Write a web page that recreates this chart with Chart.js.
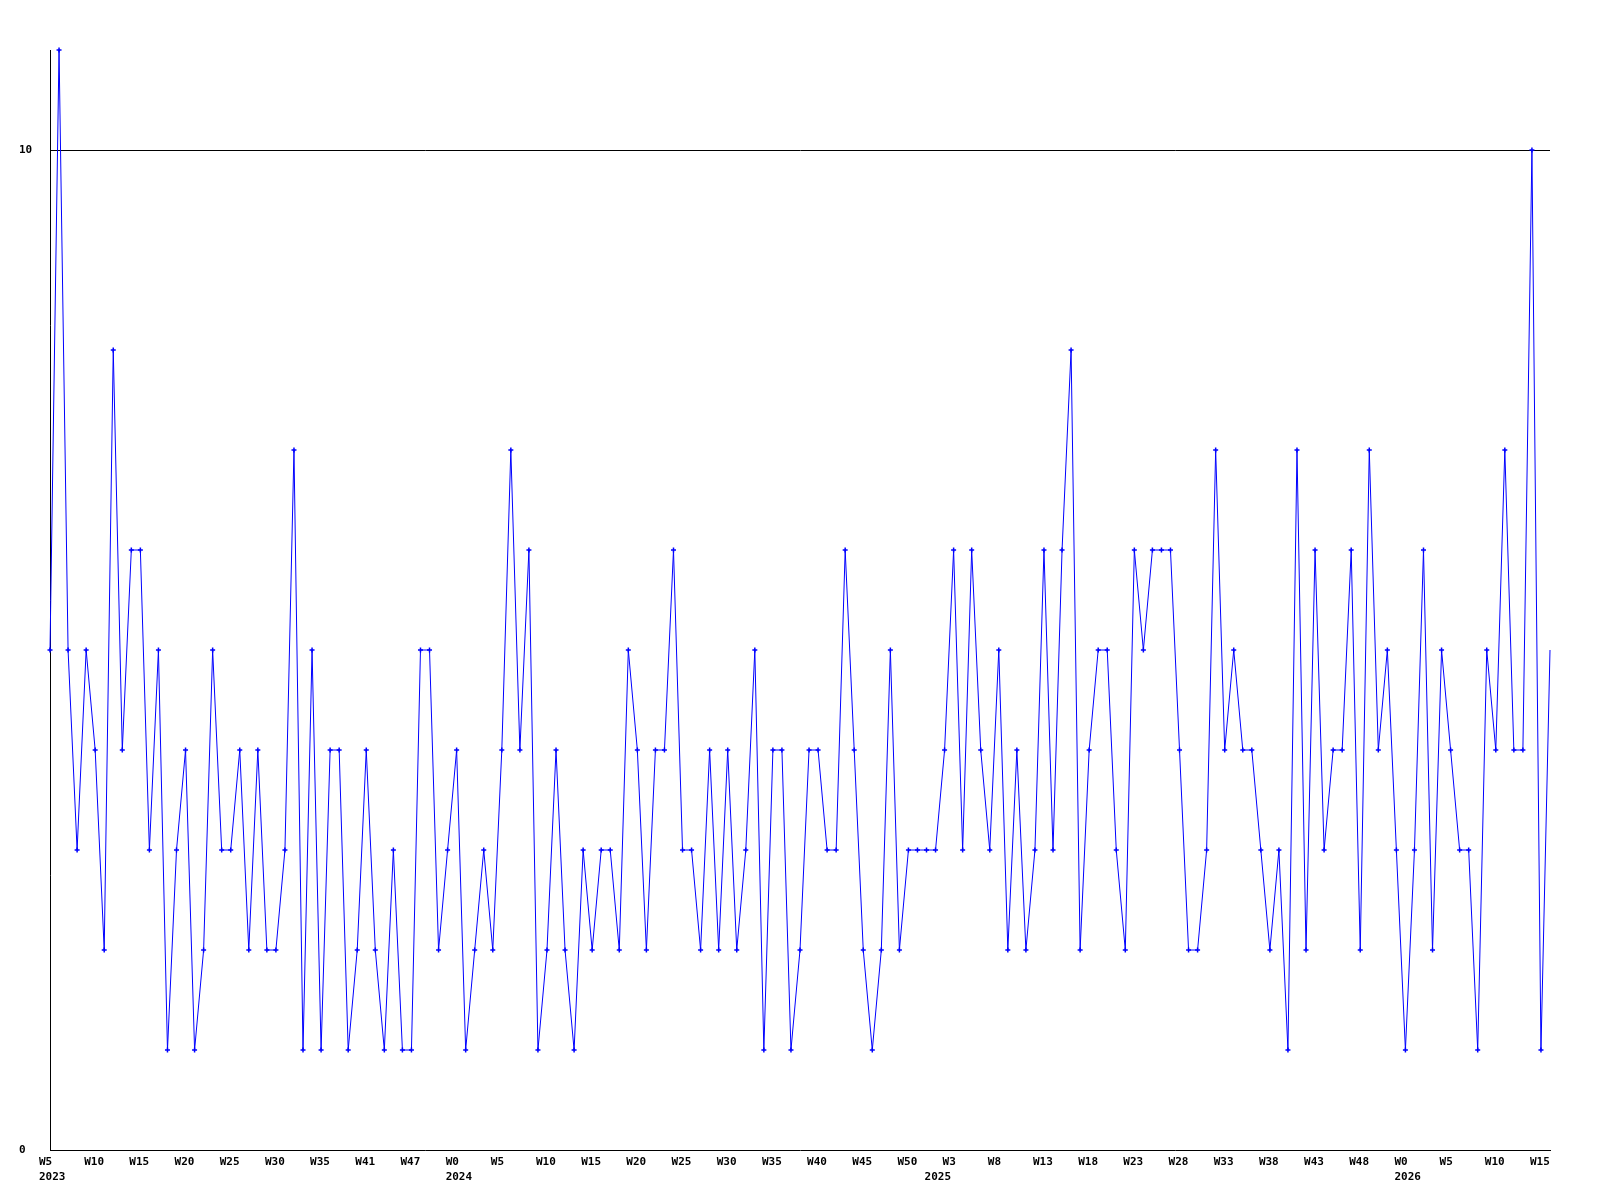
<!DOCTYPE html>
<html>
<head>
<meta charset="utf-8">
<script src="https://cdn.jsdelivr.net/npm/chart.js@4"></script>
<style>
  body { margin: 0; background: #fff; }
  #chart { display: block; }
</style>
</head>
<body>
<canvas id="chart" width="1600" height="1200"></canvas>
<script>
// ----------------- Données -----------------
// une valeur par semaine, de 2023 W5 à 2026 W15
const values = [
  5, 11, 5, 3, 5, 4, 2, 8, 4, 6, 6, 3, 5, 1, 3, 4, 1, 2, 5, 3,
  3, 4, 2, 4, 2, 2, 3, 7, 1, 5, 1, 4, 4, 1, 2, 4, 2, 1, 3, 1,
  1, 5, 5, 2, 3, 4, 1, 2, 3, 2, 4, 7, 4, 6, 1, 2, 4, 2, 1, 3,
  2, 3, 3, 2, 5, 4, 2, 4, 4, 6, 3, 3, 2, 4, 2, 4, 2, 3, 5, 1,
  4, 4, 1, 2, 4, 4, 3, 3, 6, 4, 2, 1, 2, 5, 2, 3, 3, 3, 3, 4,
  6, 3, 6, 4, 3, 5, 2, 4, 2, 3, 6, 3, 6, 8, 2, 4, 5, 5, 3, 2,
  6, 5, 6, 6, 6, 4, 2, 2, 3, 7, 4, 5, 4, 4, 3, 2, 3, 1, 7, 2,
  6, 3, 4, 4, 6, 2, 7, 4, 5, 3, 1, 3, 6, 2, 5, 4, 3, 3, 1, 5,
  4, 7, 4, 4, 10, 1, 5
];

// étiquettes de l'axe X : une toutes les 5 semaines
const tickEvery = 5;
const tickWeeks = [
  'W5', 'W10', 'W15', 'W20', 'W25', 'W30', 'W35', 'W41', 'W47',
  'W0', 'W5', 'W10', 'W15', 'W20', 'W25', 'W30', 'W35', 'W40', 'W45', 'W50',
  'W3', 'W8', 'W13', 'W18', 'W23', 'W28', 'W33', 'W38', 'W43', 'W48',
  'W0', 'W5', 'W10', 'W15'
];
// début de chaque année (index de la semaine)
const yearIndex = [0, 45, 98, 150];
const years = ['2023', '2024', '2025', '2026'];

const yTicks = [0, 10];

// ----------------- Catégories -----------------
const categories = values.map((v, i) => {
  const week = (i % tickEvery === 0) ? tickWeeks[i / tickEvery] : '';
  const y = yearIndex.indexOf(i);
  return y >= 0 ? [week, years[y]] : week;
});

Chart.defaults.font.family = "'DejaVu Sans Mono', 'Liberation Mono', monospace";
Chart.defaults.font.size = 11;
Chart.defaults.font.weight = 'bold';
Chart.defaults.color = '#000';

const lastIndex = values.length - 1;

// ----------------- Graphique -----------------
const ctx = document.getElementById('chart').getContext('2d');
new Chart(ctx, {
  type: 'line',
  data: {
    labels: categories,
    datasets: [{
      data: values,
      borderColor: '#0000ff',
      backgroundColor: '#0000ff',
      borderWidth: 1,
      tension: 0,
      fill: false,
      pointStyle: 'cross',
      pointRadius: c => c.dataIndex === lastIndex ? 0 : 2.5,
      pointBorderWidth: 1.5,
      pointBorderColor: '#0000ff',
      clip: false
    }]
  },
  options: {
    responsive: false,
    animation: false,
    layout: { padding: { top: 50, right: 50, left: 19, bottom: 0 } },
    plugins: { legend: { display: false }, tooltip: { enabled: false } },
    scales: {
      x: {
        type: 'category',
        offset: false,
        grid: { display: false, drawTicks: false },
        border: { display: true, color: '#000', width: 1 },
        ticks: {
          autoSkip: false,
          maxRotation: 0,
          minRotation: 0,
          align: 'start',
          labelOffset: -11,
          padding: 5,
          font: { lineHeight: '14.5px' },
          callback: function(value) { return this.getLabelForValue(value); }
        },
        afterFit: s => { s.height = 50; }
      },
      y: {
        min: 0,
        max: 11,
        grid: {
          drawTicks: false,
          color: c => (c.tick && c.tick.value === 10) ? '#000' : 'rgba(0,0,0,0)',
          lineWidth: 1
        },
        border: { display: true, color: '#000', width: 1 },
        ticks: { crossAlign: 'far', padding: 0 },
        afterBuildTicks: s => { s.ticks = yTicks.map(v => ({ value: v })); },
        afterFit: s => { s.width = 31; }
      }
    }
  }
});
</script>
</body>
</html>
